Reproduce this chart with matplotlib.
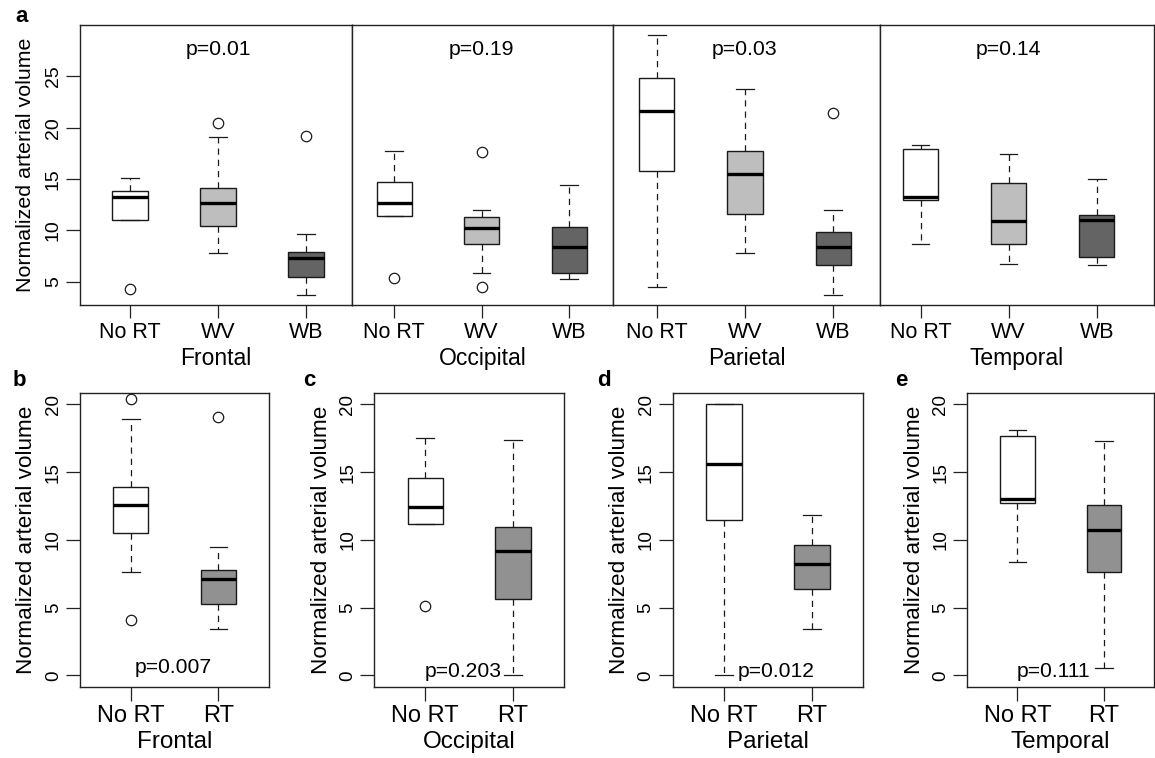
import matplotlib
matplotlib.use("Agg")
import matplotlib.pyplot as plt

plt.rcParams['font.family'] = ['Liberation Sans', 'DejaVu Sans']

# ---------------- data ----------------
regions = ["Frontal", "Occipital", "Parietal", "Temporal"]
top_groups = ["No RT", "WV", "WB"]
top_pvals = ["p=0.01", "p=0.19", "p=0.03", "p=0.14"]

# panel a: per region, per group (No RT, WV, WB)
frontal_med = [13.2, 12.7, 7.3]
frontal_q1 = [11.0, 10.4, 5.5]
frontal_q3 = [13.8, 14.1, 7.9]
frontal_lo = [11.0, 7.8, 3.7]
frontal_hi = [15.1, 19.1, 9.6]
frontal_out = [[4.3], [20.5], [19.2]]

occipital_med = [12.7, 10.2, 8.4]
occipital_q1 = [11.4, 8.7, 5.85]
occipital_q3 = [14.7, 11.3, 10.3]
occipital_lo = [11.4, 5.85, 5.3]
occipital_hi = [17.7, 11.95, 14.4]
occipital_out = [[5.4], [17.6, 4.5], []]

parietal_med = [21.65, 15.5, 8.4]
parietal_q1 = [15.8, 11.55, 6.65]
parietal_q3 = [24.85, 17.75, 9.8]
parietal_lo = [4.45, 7.75, 3.7]
parietal_hi = [29.0, 23.8, 12.0]
parietal_out = [[], [], [21.4]]

temporal_med = [13.25, 10.9, 11.0]
temporal_q1 = [12.95, 8.7, 7.45]
temporal_q3 = [17.9, 14.6, 11.5]
temporal_lo = [8.65, 6.75, 6.6]
temporal_hi = [18.3, 17.45, 15.05]
temporal_out = [[], [], []]

# panels b-e: groups (No RT, RT)
bot_groups = ["No RT", "RT"]
bot_pvals = ["p=0.007", "p=0.203", "p=0.012", "p=0.111"]
bot_letters = ["b", "c", "d", "e"]

b_med = [12.6, 7.1]
b_q1 = [10.5, 5.25]
b_q3 = [13.9, 7.75]
b_lo = [7.6, 3.45]
b_hi = [18.9, 9.45]
b_out = [[20.4, 4.1], [19.05]]

c_med = [12.45, 9.2]
c_q1 = [11.2, 5.65]
c_q3 = [14.55, 10.95]
c_lo = [11.2, 0.0]
c_hi = [17.5, 17.4]
c_out = [[5.15], []]

d_med = [15.6, 8.2]
d_q1 = [11.45, 6.35]
d_q3 = [20.05, 9.6]
d_lo = [0.0, 3.45]
d_hi = [20.05, 11.85]
d_out = [[], []]

e_med = [13.05, 10.75]
e_q1 = [12.75, 7.6]
e_q3 = [17.7, 12.6]
e_lo = [8.4, 0.55]
e_hi = [18.1, 17.3]
e_out = [[], []]

# ---------------- styling / layout ----------------
top_colors = ["white", "#bebebe", "#646464"]
bot_colors = ["white", "#919191"]
edge = "#1a1a1a"

W, H = 1155, 758
fig = plt.figure(figsize=(W / 100, H / 100), dpi=100)


def px_axes(x0, x1, y0, y1):
    return fig.add_axes([x0 / W, 1 - y1 / H, (x1 - x0) / W, (y1 - y0) / H])


def make_stats(med, q1, q3, lo, hi, out):
    return [dict(med=med[i], q1=q1[i], q3=q3[i], whislo=lo[i], whishi=hi[i],
                 fliers=out[i]) for i in range(len(med))]


def draw_boxes(ax, stats, colors):
    n = len(stats)
    res = ax.bxp(stats, positions=list(range(1, n + 1)), widths=0.4,
                 capwidths=0.2, showfliers=True, patch_artist=True,
                 boxprops=dict(edgecolor=edge, linewidth=1.0),
                 medianprops=dict(color="black", linewidth=2.4, solid_capstyle="butt"),
                 whiskerprops=dict(color=edge, linewidth=0.9, linestyle=(0, (5, 4))),
                 capprops=dict(color=edge, linewidth=0.9),
                 flierprops=dict(marker="o", markerfacecolor="none",
                                 markeredgecolor=edge, markersize=7.5,
                                 markeredgewidth=0.9, linestyle="none"))
    for patch, c in zip(res["boxes"], colors):
        patch.set_facecolor(c)
    for sp in ax.spines.values():
        sp.set_linewidth(1.0)
        sp.set_color("#222222")


# ---------- top row (panel a) ----------
top_stats = [
    make_stats(frontal_med, frontal_q1, frontal_q3, frontal_lo, frontal_hi, frontal_out),
    make_stats(occipital_med, occipital_q1, occipital_q3, occipital_lo, occipital_hi, occipital_out),
    make_stats(parietal_med, parietal_q1, parietal_q3, parietal_lo, parietal_hi, parietal_out),
    make_stats(temporal_med, temporal_q1, temporal_q3, temporal_lo, temporal_hi, temporal_out),
]
top_px = [(80, 352), (352, 613), (613, 880), (880, 1154)]
top_xlim = [(0.432, 3.523), (0.52, 3.5), (0.505, 3.53), (0.54, 3.65)]

for k in range(4):
    ax = px_axes(top_px[k][0], top_px[k][1], 25, 305)
    draw_boxes(ax, top_stats[k], top_colors)
    ax.set_xlim(*top_xlim[k])
    ax.set_ylim(2.73, 30.0)
    ax.set_xticks([1, 2, 3])
    ax.set_xticklabels(top_groups, fontsize=15.5)
    ax.tick_params(axis="x", length=9, width=0.9, pad=3.5, color="#222222")
    ax.set_xlabel(regions[k], fontsize=16.5, labelpad=2.5)
    ax.text(2, 27.6, top_pvals[k], ha="center", va="center", fontsize=15.3)
    if k == 0:
        ax.set_yticks([5, 10, 15, 20, 25])
        ax.set_yticklabels(["5", "10", "15", "20", "25"], rotation=90, va="center",
                           fontsize=14)
        ax.tick_params(axis="y", length=10, width=0.9, pad=3, color="#222222")
        ax.set_ylabel("Normalized arterial volume", fontsize=15.4, labelpad=7.5)
    else:
        ax.set_yticks([])

fig.text(15 / W, 1 - 16 / H, "a", fontsize=16, fontweight="bold", ha="left", va="center")

# ---------- bottom row (panels b-e) ----------
bot_stats = [
    make_stats(b_med, b_q1, b_q3, b_lo, b_hi, b_out),
    make_stats(c_med, c_q1, c_q3, c_lo, c_hi, c_out),
    make_stats(d_med, d_q1, d_q3, d_lo, d_hi, d_out),
    make_stats(e_med, e_q1, e_q3, e_lo, e_hi, e_out),
]
bot_px = [(80, 269.3), (374.3, 564), (672.7, 863.3), (967.3, 1154)]
bot_ptext = [(1.48, 0.56), (1.43, 0.27), (1.59, 0.27), (1.415, 0.27)]
letter_px = [(13, 380), (303, 380), (597, 380), (895, 380)]

for k in range(4):
    ax = px_axes(bot_px[k][0], bot_px[k][1], 393, 686.5)
    draw_boxes(ax, bot_stats[k], bot_colors)
    ax.set_xlim(0.42, 2.58)
    ax.set_ylim(-0.82, 20.84)
    ax.set_xticks([1, 2])
    ax.set_xticklabels(bot_groups, fontsize=17)
    ax.tick_params(axis="x", length=10, width=0.9, pad=3, color="#222222")
    ax.set_xlabel(regions[k], fontsize=17.5, labelpad=3)
    ax.set_yticks([0, 5, 10, 15, 20])
    ax.set_yticklabels(["0", "5", "10", "15", "20"], rotation=90, va="center",
                       fontsize=13.5)
    ax.tick_params(axis="y", length=10, width=0.9, pad=3, color="#222222")
    ax.set_ylabel("Normalized arterial volume", fontsize=16.2, labelpad=5.5)
    ax.text(bot_ptext[k][0], bot_ptext[k][1], bot_pvals[k], ha="center",
            va="center", fontsize=15.2)
    fig.text(letter_px[k][0] / W, 1 - letter_px[k][1] / H, bot_letters[k],
             fontsize=16, fontweight="bold", ha="left", va="center")

fig.savefig("out.png", dpi=100, facecolor="white")
